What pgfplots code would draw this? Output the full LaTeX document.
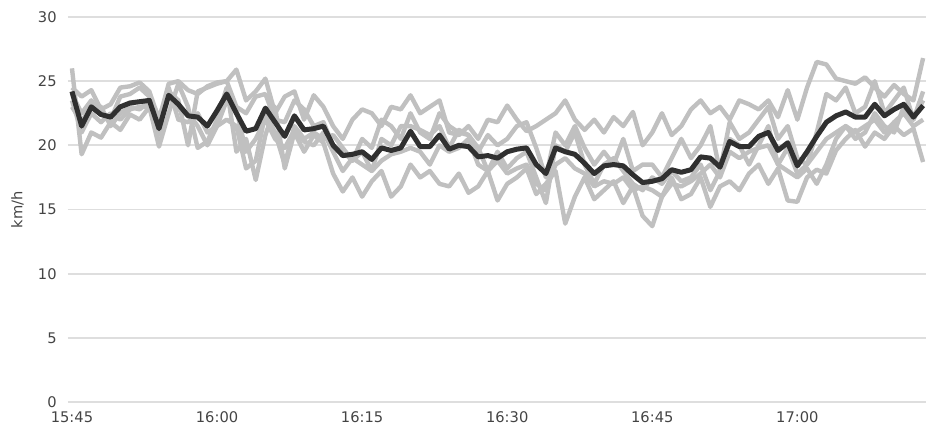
\documentclass[border=0pt]{standalone}
\usepackage{pgfplots}
\pgfplotsset{compat=1.18}
\usepackage{pgfplotstable}
\usepackage{fontspec}
\setmainfont{DejaVu Sans}
\definecolor{greyline}{RGB}{192,192,192}
\definecolor{darkline}{RGB}{48,48,48}
\definecolor{gridc}{RGB}{222,222,222}
\definecolor{labc}{RGB}{68,68,68}

% minute index from 15:45 ; dark = average, A..E = individual series
\pgfplotstableread{
m dark A B C D E
0 24.2 26.0 24.5 24.0 23.0 23.5
1 21.5 19.3 23.8 22.5 21.8 21.0
2 23.0 21.0 24.3 23.5 23.2 22.5
3 22.4 20.6 22.8 22.5 23.0 21.8
4 22.2 21.8 23.2 22.0 21.5 22.5
5 23.0 21.2 24.5 23.8 22.5 22.0
6 23.3 22.4 24.6 24.0 23.0 22.8
7 23.4 22.0 24.9 24.5 22.8 23.0
8 23.5 23.0 24.2 23.8 23.5 23.0
9 21.3 19.9 22.0 22.2 20.8 21.5
10 23.9 22.5 24.8 24.2 24.5 24.0
11 23.2 24.8 25.0 23.5 22.0 22.8
12 22.3 23.0 24.3 20.0 21.8 22.5
13 22.2 19.8 24.0 24.2 22.5 21.5
14 21.5 20.3 24.6 24.5 21.0 20.0
15 22.7 22.0 24.9 24.8 21.5 21.5
16 24.0 24.5 25.0 25.0 23.5 22.0
17 22.5 19.5 25.9 23.0 22.8 21.5
18 21.1 20.5 23.5 22.5 19.5 18.2
19 21.3 17.3 24.2 23.8 20.5 18.8
20 22.9 20.8 25.2 24.0 22.0 22.5
21 21.8 23.0 22.5 22.0 20.5 21.0
22 20.7 18.2 23.8 21.8 19.8 18.5
23 22.3 21.0 24.2 23.5 21.2 21.5
24 21.2 19.5 22.0 22.8 20.3 20.5
25 21.3 20.8 23.9 21.5 20.0 21.0
26 21.5 20.2 23.0 21.8 21.0 20.5
27 20.0 17.8 21.5 20.0 19.5 20.8
28 19.2 16.4 20.5 19.5 18.0 19.8
29 19.3 17.5 22.0 18.8 19.0 18.8
30 19.5 16.0 22.8 20.5 18.5 19.5
31 18.9 17.2 22.5 19.8 18.0 18.0
32 19.8 18.0 21.5 22.0 18.8 20.5
33 19.6 16.0 23.0 21.5 19.3 20.0
34 19.8 16.8 22.8 20.5 19.5 21.5
35 21.1 18.5 23.9 22.5 19.8 21.5
36 19.9 17.5 22.5 21.0 19.5 21.2
37 19.9 18.0 23.0 20.5 18.5 20.8
38 20.8 17.0 23.5 22.5 20.0 21.5
39 19.7 16.8 21.0 21.5 19.5 19.8
40 20.0 17.8 20.8 21.0 19.8 21.2
41 19.9 16.3 21.5 20.8 20.5 20.8
42 19.1 16.8 20.5 19.5 18.5 19.8
43 19.2 18.0 22.0 20.8 18.0 18.0
44 19.0 15.7 21.8 20.0 18.8 19.5
45 19.5 17.0 23.1 20.5 17.8 18.2
46 19.7 17.5 22.0 21.5 18.2 19.0
47 19.8 18.2 21.1 21.8 18.5 19.5
48 18.5 16.2 21.5 19.8 17.0 17.5
49 17.8 17.0 22.0 17.5 16.5 15.5
50 19.8 18.0 22.5 21.0 18.5 20.0
51 19.5 13.9 23.5 20.0 19.0 19.5
52 19.3 16.0 22.0 21.5 18.2 21.0
53 18.6 17.5 21.2 19.8 17.8 18.5
54 17.8 15.8 22.0 18.5 16.8 17.0
55 18.4 16.5 21.0 19.5 17.2 18.5
56 18.5 17.2 22.2 18.5 17.0 19.0
57 18.4 15.5 21.5 20.5 17.5 18.0
58 17.7 16.8 22.6 18.0 16.5 17.0
59 17.1 14.5 20.0 18.5 16.8 16.5
60 17.2 13.7 21.0 18.5 16.5 17.5
61 17.4 16.0 22.5 17.5 16.0 17.0
62 18.1 17.5 20.8 19.0 17.0 18.0
63 17.9 15.8 21.5 20.5 16.8 17.2
64 18.1 16.2 22.8 19.0 17.2 17.5
65 19.1 17.5 23.5 20.0 17.8 18.5
66 19.0 15.2 22.5 21.5 18.5 16.5
67 18.3 16.8 23.0 18.0 17.5 18.0
68 20.3 17.2 22.0 21.8 19.5 20.5
69 19.9 16.5 23.5 20.5 19.0 20.0
70 19.9 17.8 23.2 21.0 19.5 18.5
71 20.7 18.5 22.8 22.0 19.8 20.0
72 21.0 17.0 23.5 23.0 20.0 21.5
73 19.6 18.2 22.2 20.5 18.5 18.5
74 20.2 15.7 24.3 21.5 19.8 18.0
75 18.4 15.6 22.0 19.0 17.8 17.5
76 19.5 17.5 24.5 18.5 18.5 18.2
77 20.7 18.1 26.5 21.0 19.5 17.0
78 21.8 17.8 26.3 24.0 20.5 18.5
79 22.3 19.6 25.2 23.5 21.0 20.5
80 22.6 20.5 25.0 24.5 21.5 21.5
81 22.2 21.2 24.8 22.5 21.0 20.5
82 22.2 19.9 25.3 23.0 21.5 21.0
83 23.2 21.0 24.5 25.0 22.0 22.5
84 22.3 20.5 23.8 22.5 21.0 21.5
85 22.8 21.5 24.7 23.5 21.8 21.0
86 23.2 20.8 24.0 24.5 22.5 23.0
87 22.2 21.3 23.5 22.0 21.5 22.0
88 23.1 18.7 26.8 24.2 22.0 23.5
}\speeds

\begin{document}
\begin{tikzpicture}[x=1pt,y=1pt]
\path[use as bounding box] (0,0) rectangle (694.5,324);
\begin{axis}[
  at={(51pt,22.5pt)}, anchor=south west,
  scale only axis,
  width=643.5pt, height=288.75pt,
  xmin=-0.41, xmax=88.3,
  ymin=0, ymax=30,
  ytick={0,5,10,15,20,25,30},
  xtick={0,15,30,45,60,75},
  xticklabels={15:45,16:00,16:15,16:30,16:45,17:00},
  axis line style={draw=none},
  major tick length=0pt,
  ymajorgrids,
  grid style={gridc, line width=1.3pt},
  tick label style={font=\fontsize{11}{13}\selectfont, text=labc},
  /pgf/number format/assume math mode=true,
  yticklabel style={xshift=-5pt},
  xticklabel style={yshift=-4pt},
  ylabel={km/h},
  every axis y label/.style={at={(rel axis cs:0,0.5)}, xshift=-37.9pt, rotate=90, anchor=center, font=\fontsize{11}{13}\selectfont, text=labc},
  clip=true,
  line join=round,
]
\addplot[greyline, line width=3.3pt] table[x=m, y=A] {\speeds};
\addplot[greyline, line width=3.3pt] table[x=m, y=B] {\speeds};
\addplot[greyline, line width=3.3pt] table[x=m, y=C] {\speeds};
\addplot[greyline, line width=3.3pt] table[x=m, y=D] {\speeds};
\addplot[greyline, line width=3.3pt] table[x=m, y=E] {\speeds};
\addplot[darkline, line width=3.75pt] table[x=m, y=dark] {\speeds};
\end{axis}
\end{tikzpicture}
\end{document}
